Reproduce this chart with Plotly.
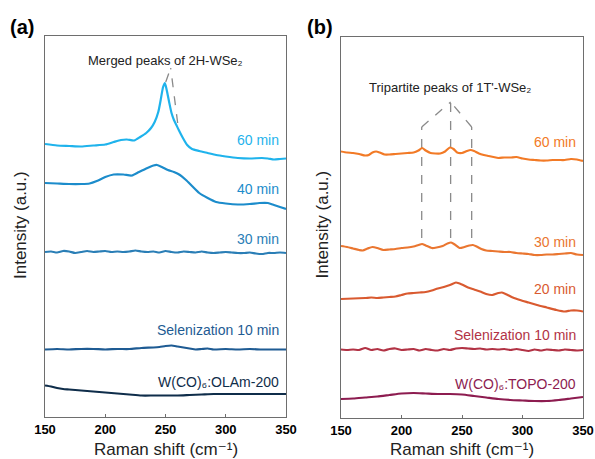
import plotly.graph_objects as go

FONT = "Arial, Liberation Sans, DejaVu Sans, sans-serif"

# ---------------- Panel (a) data ----------------
x60a = [150,160,170,180,190,200,207,213,218,224,229,234,238,241,244,246,248,249.5,251,253,255,257,259,261,264,268,272,278,285,292,300,310,320,330,335,340,345,350]
y60a = [273,271.5,271,270.5,271.5,272.5,275,277,277.5,276.5,280,284,289,295,305,317,330,334,327,315,304,297,292,287,280,272,268,266,264,262,260.5,259,258.5,259,258.5,257.5,258,258.5]

x40a = [150,160,170,180,187,193,200,207,215,222,228,235,240,243,247,252,257,262,267,272,278,285,292,300,310,320,328,335,340,345,350]
y40a = [234,233.5,233,233,233.5,236,240,242.5,242.5,241.5,245,249,251.5,252,250,247,245,242,237,231,224,219,215,213.5,212.5,213,214,214,212,210,208]

x30a = list(range(150, 351, 5))
y30a = [165,165.5,164.5,166,165.5,164,165,166,165,165.5,
        166,165,165.5,165,165.5,166.5,165.5,165,165.5,164.5,
        166,165,164.5,165.5,165,164.5,165.5,164.5,164,164.5,
        165,164.5,164,164,164.5,163.5,163,164,164,164.5,164]

x10a = [150,160,170,180,190,200,210,220,230,240,245,250,255,260,265,270,275,280,285,290,300,310,320,330,340,350]
y10a = [67.5,68,67.5,68,68,67.5,68,68,69,69.5,70,71,71.5,70.5,69.5,68.5,67.5,68,68.5,67.5,68,67.5,68,67.5,67.5,67.5]

xOLAm = [150,155,160,165,170,180,190,200,210,220,230,240,250,260,270,280,290,300,310,320,330,340,350]
yOLAm = [31.5,30.5,29,28,27.5,26.5,25.5,24.5,23.5,22.5,21.5,21.5,21.5,21.5,22,22.5,23,23,23,23,23,23,23]

# ---------------- Panel (b) data ----------------
x60b = [150,155,160,165,170,173,176,179,182,186,190,195,200,205,210,214,217,220,224,228,232,236,240,243,246,250,254,257,260,264,268,272,276,280,285,290,295,300,305,310,315,320,325,330,335,340,345,350]
y60b = [266.5,265.5,265,264,262.5,263,265.5,266.5,265.5,263.5,
        263.5,264,264.5,265,265.5,267.5,270,267.5,265,264.5,
        264.5,266.5,270.5,269,265.5,265,267,268,267,264.5,
        263,262,261,260,260.5,260.5,261,259.5,258.5,258,
        257.5,257.5,258,258,258,259,258.5,257]

x30b = [150,155,160,165,168,172,176,180,185,190,195,200,205,210,214,217,220,225,229,234,238,241,244,248,252,256,259,262,266,270,275,280,285,290,295,300,305,310,315,320,325,330,335,340,345,350]
y30b = [172,171,169.5,168,167.5,169.5,171,170,168,168.5,
        169,170,170.5,171.5,173,174,172.5,170,170.5,172,
        174.5,175.5,173.5,170,171,172.5,173,171.5,169,167.5,
        167,166.5,166,166,165,164.5,164,163,163,163.5,
        163.5,164,164.5,165,163.5,163]

x20b = [150,160,170,175,180,185,190,195,200,205,210,215,220,225,230,235,240,245,250,255,260,265,270,275,280,283,287,292,298,305,312,320,328,335,340,345,350]
y20b = [119,119.5,120,120.5,120,120.5,121,121.5,123,124.5,
        125,125.5,126,127.5,129.5,131,133,135.5,133.5,130.5,
        128.5,126.5,124,123,125,125.5,123.5,120.5,118,115.5,
        113,110.5,108,106.5,107.5,107.5,106.5]

x10b = list(range(150, 351, 5))
y10b = [68.5,68,68.5,68,70,68,69,67.5,69,69.5,
        68,68.5,69,67.5,69,68,67.5,69,68,69.5,
        70,69.5,69,69.5,68.5,69,68.5,69,68,69,
        68,67,68.5,67.5,68.5,68,67.5,68.5,68,67.5,68]

xTOPO = [150,160,170,180,190,200,210,220,230,240,250,260,270,280,290,300,310,320,330,340,350]
yTOPO = [19,19.5,20.5,21.5,23,24.5,25,24.5,24,24,23.5,22,20.5,19,18,17.5,17,17,18,19.5,21]

# Ticks
major_ticks = [150, 200, 250, 300, 350]
minor_ticks = [175, 225, 275, 325]

# Labels
labels_a = ["60 min", "40 min", "30 min", "Selenization 10 min", "W(CO)\u2086:OLAm-200"]
labels_b = ["60 min", "30 min", "20 min", "Selenization 10 min", "W(CO)\u2086:TOPO-200"]
colors_a = ["#1FB3EC", "#1C8CCB", "#2A7EB6", "#1E5B93", "#0F2D4A"]
colors_b = ["#F27A26", "#EA7630", "#D95A30", "#B23345", "#8D1C50"]
label_y_a = [277, 228, 178, 87, 35]
label_y_b = [276, 176, 129, 83, 34]
note_a = "Merged peaks of 2H-WSe\u2082"
note_b = "Tripartite peaks of 1T'-WSe\u2082"
x_title = "Raman shift (cm\u207b\u00b9)"
y_title = "Intensity (a.u.)"

# Peak guides
merged_peaks_a = [250.2, 260.1]
merged_peak_levels_a = [335, 294]
merged_apex_a = (254.3, 349)
tri_peaks_b = [216.7, 240.6, 258.0]
tri_low_b = 180
tri_high_b = [291, 316, 291]

series_a = [(x60a, y60a), (x40a, y40a), (x30a, y30a), (x10a, y10a), (xOLAm, yOLAm)]
series_b = [(x60b, y60b), (x30b, y30b), (x20b, y20b), (x10b, y10b), (xTOPO, yTOPO)]

W, H = 595, 459
def fx(px):
    return px / W
def fy(py):
    return 1 - py / H

fig = go.Figure()
GUIDE = dict(color="#8a8a8a", width=1.3, dash="dash")

for px, py in zip(merged_peaks_a, merged_peak_levels_a):
    fig.add_trace(go.Scatter(x=[px, merged_apex_a[0]], y=[py, merged_apex_a[1]], mode="lines",
                             line=GUIDE, xaxis="x", yaxis="y", showlegend=False, hoverinfo="skip"))
apex_x = tri_peaks_b[1]
apex_y = tri_high_b[1]
for px, top in zip(tri_peaks_b, tri_high_b):
    fig.add_trace(go.Scatter(x=[px, px], y=[tri_low_b, top], mode="lines",
                             line=GUIDE, xaxis="x2", yaxis="y2", showlegend=False, hoverinfo="skip"))
for px in (tri_peaks_b[0], tri_peaks_b[2]):
    fig.add_trace(go.Scatter(x=[px, apex_x], y=[tri_high_b[0], apex_y], mode="lines",
                             line=GUIDE, xaxis="x2", yaxis="y2", showlegend=False, hoverinfo="skip"))

for (xs, ys), c in zip(series_a, colors_a):
    fig.add_trace(go.Scatter(x=xs, y=ys, mode="lines", line=dict(color=c, width=2.2, shape="spline", smoothing=0.6),
                             xaxis="x", yaxis="y", showlegend=False))
for (xs, ys), c in zip(series_b, colors_b):
    fig.add_trace(go.Scatter(x=xs, y=ys, mode="lines", line=dict(color=c, width=2.2, shape="spline", smoothing=0.6),
                             xaxis="x2", yaxis="y2", showlegend=False))

ann = []
for t, c, yv in zip(labels_a, colors_a, label_y_a):
    ann.append(dict(x=346, y=yv, xref="x", yref="y", text=t, showarrow=False, xanchor="right",
                    yanchor="middle", font=dict(family=FONT, size=14, color=c)))
for t, c, yv in zip(labels_b, colors_b, label_y_b):
    ann.append(dict(x=346, y=yv, xref="x2", yref="y2", text=t, showarrow=False, xanchor="right",
                    yanchor="middle", font=dict(family=FONT, size=14, color=c)))

ann.append(dict(x=250.4, y=356, xref="x", yref="y", text=note_a,
                showarrow=False, xanchor="center", yanchor="middle", font=dict(family=FONT, size=13, color="#222")))
ann.append(dict(x=240, y=330, xref="x2", yref="y2", text=note_b,
                showarrow=False, xanchor="center", yanchor="middle", font=dict(family=FONT, size=13, color="#222")))

for xc in ((45 + 286) / 2, (341 + 583) / 2):
    ann.append(dict(x=fx(xc), y=fy(449), xref="paper", yref="paper", text=x_title,
                    showarrow=False, xanchor="center", yanchor="middle", font=dict(family=FONT, size=17, color="#222")))
for xc in (20, 321.5):
    ann.append(dict(x=fx(xc), y=fy(225), xref="paper", yref="paper", text=y_title, textangle=-90,
                    showarrow=False, xanchor="center", yanchor="middle", font=dict(family=FONT, size=17, color="#222")))
for t, xc in (("(a)", 21.7), ("(b)", 320)):
    ann.append(dict(x=fx(xc), y=fy(26.7), xref="paper", yref="paper", text=t,
                    showarrow=False, xanchor="center", yanchor="middle",
                    font=dict(family=FONT, size=20, color="#000", weight="bold")))

FRAME = "#6e6e6e"
xaxis_common = dict(range=[150, 350], tickmode="array", tickvals=major_ticks,
                    ticktext=[str(v) for v in major_ticks],
                    ticks="inside", ticklen=3, tickcolor=FRAME, tickwidth=1,
                    showline=True, mirror=True, linecolor=FRAME, linewidth=1,
                    showgrid=False, zeroline=False, automargin=False,
                    tickfont=dict(family=FONT, size=13, color="#000", weight="bold"))
minor_common = dict(range=[150, 350], tickmode="array", tickvals=minor_ticks, showticklabels=False,
                    ticks="inside", ticklen=3, tickcolor=FRAME, tickwidth=1, showline=False,
                    showgrid=False, zeroline=False, automargin=False)
yaxis_common = dict(range=[0, 381], showticklabels=False, ticks="", showline=True, mirror=True,
                    linecolor=FRAME, linewidth=1, showgrid=False, zeroline=False, automargin=False)

dom_a = [fx(45), fx(286)]
dom_b = [fx(341), fx(583)]
fig.update_layout(
    width=W, height=H, autosize=False, margin=dict(l=0, r=0, t=0, b=0, pad=0),
    paper_bgcolor="white", plot_bgcolor="white", showlegend=False,
    xaxis=dict(domain=dom_a, anchor="y", **xaxis_common),
    yaxis=dict(domain=[fy(417), fy(36)], anchor="x", **yaxis_common),
    xaxis2=dict(domain=dom_b, anchor="y2", **xaxis_common),
    yaxis2=dict(domain=[fy(418), fy(37)], anchor="x2", **yaxis_common),
    xaxis3=dict(domain=dom_a, anchor="y", overlaying="x", **minor_common),
    xaxis4=dict(domain=dom_b, anchor="y2", overlaying="x2", **minor_common),
    annotations=ann,
)

fig.write_html("out.html", config={"displayModeBar": False},
               post_script="document.body.style.margin='0';document.body.style.overflow='hidden';")
